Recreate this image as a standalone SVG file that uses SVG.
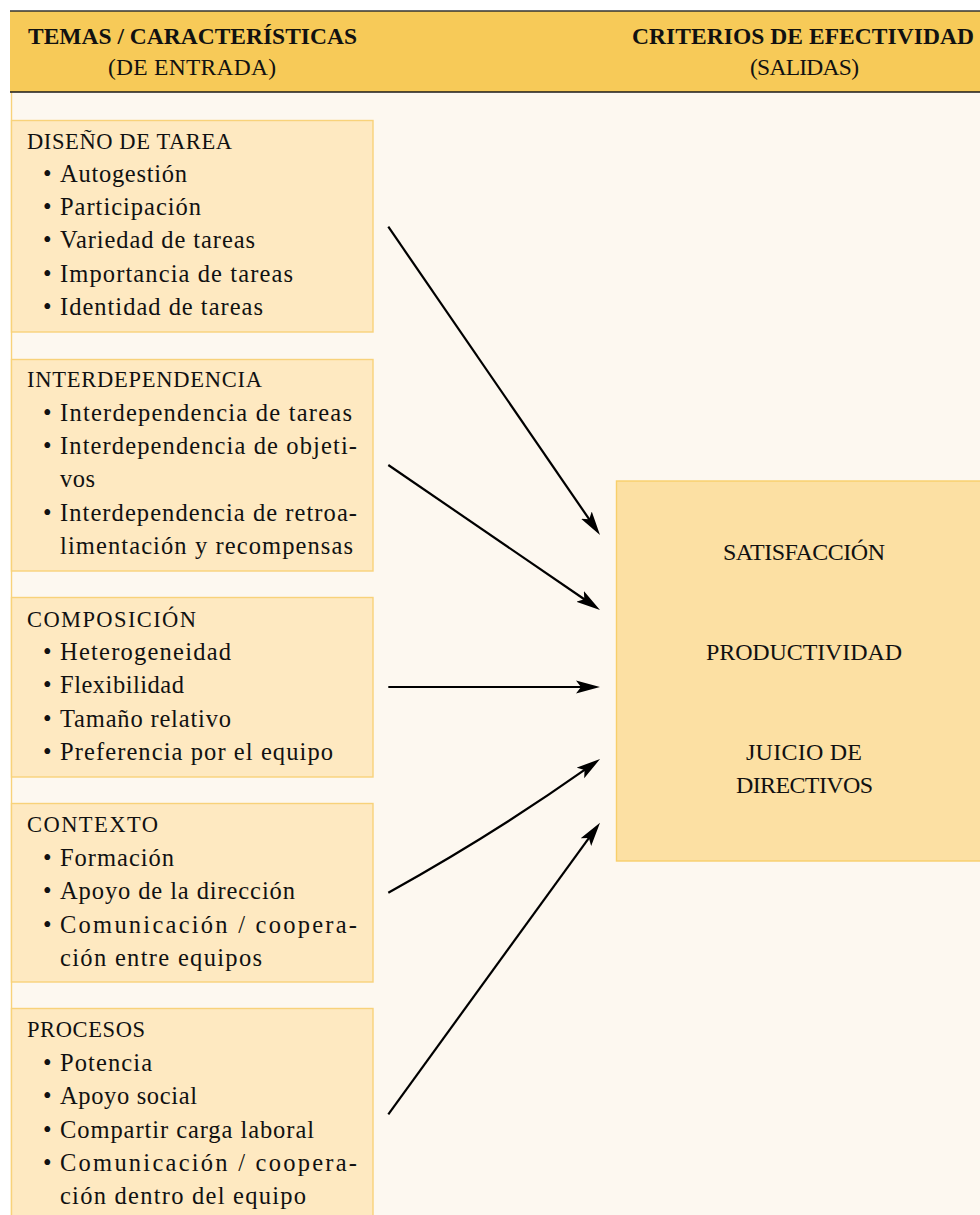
<svg xmlns="http://www.w3.org/2000/svg" width="980" height="1215" viewBox="0 0 980 1215">
<style>
.t{font-family:'Liberation Serif','DejaVu Serif',serif;fill:#111}
.ttl{font-size:22.5px}
.it{font-size:24.5px}
.hd{font-size:23.5px}
.rc{font-size:24px}
.b{font-weight:bold}
.c{text-anchor:middle}
.box{fill:#FEE9C1;stroke:#F8D27A;stroke-width:1.4}
.out{fill:#FCE0A3;stroke:#F8CF6A;stroke-width:1.4}
.arr{fill:none;stroke:#000;stroke-width:2.2;marker-end:url(#ah)}
</style>
<defs>
<marker id="ah" viewBox="0 -7 24 14" markerWidth="24" markerHeight="14" refX="9" refY="0" orient="auto" markerUnits="userSpaceOnUse">
<path d="M0,-6.5 L24,0 L0,6.5 L5,0 Z" fill="#000"/>
</marker>
</defs>
<rect x="0" y="0" width="980" height="1215" fill="#fff"/>
<g id="background">
<rect x="11" y="92" width="969" height="1123" fill="#FDF8F0"/>
<line x1="11.5" y1="92" x2="11.5" y2="1215" stroke="#F8D27A" stroke-width="1.4"/>
</g>
<g id="header">
<rect x="10" y="11" width="970" height="81" fill="#F7CA58"/>
<line x1="10" y1="11" x2="980" y2="11" stroke="#333" stroke-width="1.3"/>
<line x1="10" y1="92" x2="980" y2="92" stroke="#1a1a1a" stroke-width="1.6"/>
<text class="t hd b" x="28" y="44" textLength="329" lengthAdjust="spacing">TEMAS / CARACTERÍSTICAS</text>
<text class="t hd" x="108" y="75" textLength="168" lengthAdjust="spacing">(DE ENTRADA)</text>
<text class="t hd b" x="632" y="44" textLength="342" lengthAdjust="spacing">CRITERIOS DE EFECTIVIDAD</text>
<text class="t hd" x="750" y="75" textLength="109" lengthAdjust="spacing">(SALIDAS)</text>
</g>
<g id="box-diseno">
<rect class="box" x="11.5" y="120.5" width="361.5" height="211.5"/>
<text class="t ttl" x="27" y="149" textLength="205" lengthAdjust="spacing">DISEÑO DE TAREA</text>
<text class="t it" x="43" y="181.7">•</text><text class="t it" x="60" y="181.7" textLength="127" lengthAdjust="spacing">Autogestión</text>
<text class="t it" x="43" y="215">•</text><text class="t it" x="60" y="215" textLength="141" lengthAdjust="spacing">Participación</text>
<text class="t it" x="43" y="248.3">•</text><text class="t it" x="60" y="248.3" textLength="195" lengthAdjust="spacing">Variedad de tareas</text>
<text class="t it" x="43" y="281.7">•</text><text class="t it" x="60" y="281.7" textLength="233" lengthAdjust="spacing">Importancia de tareas</text>
<text class="t it" x="43" y="315">•</text><text class="t it" x="60" y="315" textLength="203" lengthAdjust="spacing">Identidad de tareas</text>
</g>
<g id="box-interdependencia">
<rect class="box" x="11.5" y="359.5" width="361.5" height="211.5"/>
<text class="t ttl" x="27" y="387.3" textLength="235" lengthAdjust="spacing">INTERDEPENDENCIA</text>
<text class="t it" x="43" y="420.7">•</text><text class="t it" x="60" y="420.7" textLength="292" lengthAdjust="spacing">Interdependencia de tareas</text>
<text class="t it" x="43" y="454">•</text><text class="t it" x="60" y="454" textLength="297" lengthAdjust="spacing">Interdependencia de objeti-</text>
<text class="t it" x="60" y="487.3" textLength="35" lengthAdjust="spacing">vos</text>
<text class="t it" x="43" y="520.7">•</text><text class="t it" x="60" y="520.7" textLength="297" lengthAdjust="spacing">Interdependencia de retroa-</text>
<text class="t it" x="60" y="554" textLength="293" lengthAdjust="spacing">limentación y recompensas</text>
</g>
<g id="box-composicion">
<rect class="box" x="11.5" y="597.5" width="361.5" height="179.5"/>
<text class="t ttl" x="27" y="626.5" textLength="169" lengthAdjust="spacing">COMPOSICIÓN</text>
<text class="t it" x="43" y="660">•</text><text class="t it" x="60" y="660" textLength="171" lengthAdjust="spacing">Heterogeneidad</text>
<text class="t it" x="43" y="693.3">•</text><text class="t it" x="60" y="693.3" textLength="124" lengthAdjust="spacing">Flexibilidad</text>
<text class="t it" x="43" y="726.7">•</text><text class="t it" x="60" y="726.7" textLength="171" lengthAdjust="spacing">Tamaño relativo</text>
<text class="t it" x="43" y="760">•</text><text class="t it" x="60" y="760" textLength="273" lengthAdjust="spacing">Preferencia por el equipo</text>
</g>
<g id="box-contexto">
<rect class="box" x="11.5" y="803.5" width="361.5" height="178.5"/>
<text class="t ttl" x="27" y="832.3" textLength="131" lengthAdjust="spacing">CONTEXTO</text>
<text class="t it" x="43" y="865.5">•</text><text class="t it" x="60" y="865.5" textLength="114" lengthAdjust="spacing">Formación</text>
<text class="t it" x="43" y="899">•</text><text class="t it" x="60" y="899" textLength="235" lengthAdjust="spacing">Apoyo de la dirección</text>
<text class="t it" x="43" y="932.5">•</text><text class="t it" x="60" y="932.5" textLength="297" lengthAdjust="spacing">Comunicación / coopera-</text>
<text class="t it" x="60" y="966" textLength="202" lengthAdjust="spacing">ción entre equipos</text>
</g>
<g id="box-procesos">
<rect class="box" x="11.5" y="1008.5" width="361.5" height="220"/>
<text class="t ttl" x="27" y="1037.3" textLength="118" lengthAdjust="spacing">PROCESOS</text>
<text class="t it" x="43" y="1071">•</text><text class="t it" x="60" y="1071" textLength="92" lengthAdjust="spacing">Potencia</text>
<text class="t it" x="43" y="1104.3">•</text><text class="t it" x="60" y="1104.3" textLength="137" lengthAdjust="spacing">Apoyo social</text>
<text class="t it" x="43" y="1137.7">•</text><text class="t it" x="60" y="1137.7" textLength="254" lengthAdjust="spacing">Compartir carga laboral</text>
<text class="t it" x="43" y="1171">•</text><text class="t it" x="60" y="1171" textLength="297" lengthAdjust="spacing">Comunicación / coopera-</text>
<text class="t it" x="60" y="1204" textLength="246" lengthAdjust="spacing">ción dentro del equipo</text>
</g>
<g id="box-criterios">
<rect class="out" x="616.5" y="481" width="380" height="380"/>
<text class="t rc c" x="804" y="560" textLength="162" lengthAdjust="spacing">SATISFACCIÓN</text>
<text class="t rc c" x="804" y="660" textLength="196" lengthAdjust="spacing">PRODUCTIVIDAD</text>
<text class="t rc c" x="804" y="760" textLength="116" lengthAdjust="spacing">JUICIO DE</text>
<text class="t rc c" x="804.5" y="793" textLength="137" lengthAdjust="spacing">DIRECTIVOS</text>
</g>
<g id="connectors">
<path class="arr" d="M388.3,226.7 L591.5,522.6"/>
<path class="arr" d="M388.3,465 L587.6,601.5"/>
<path class="arr" d="M388.3,687 L585,687"/>
<path class="arr" d="M388.3,892.7 Q494,834 587.8,767.7"/>
<path class="arr" d="M388.3,1114.3 L591.2,834.8"/>
</g>
</svg>
